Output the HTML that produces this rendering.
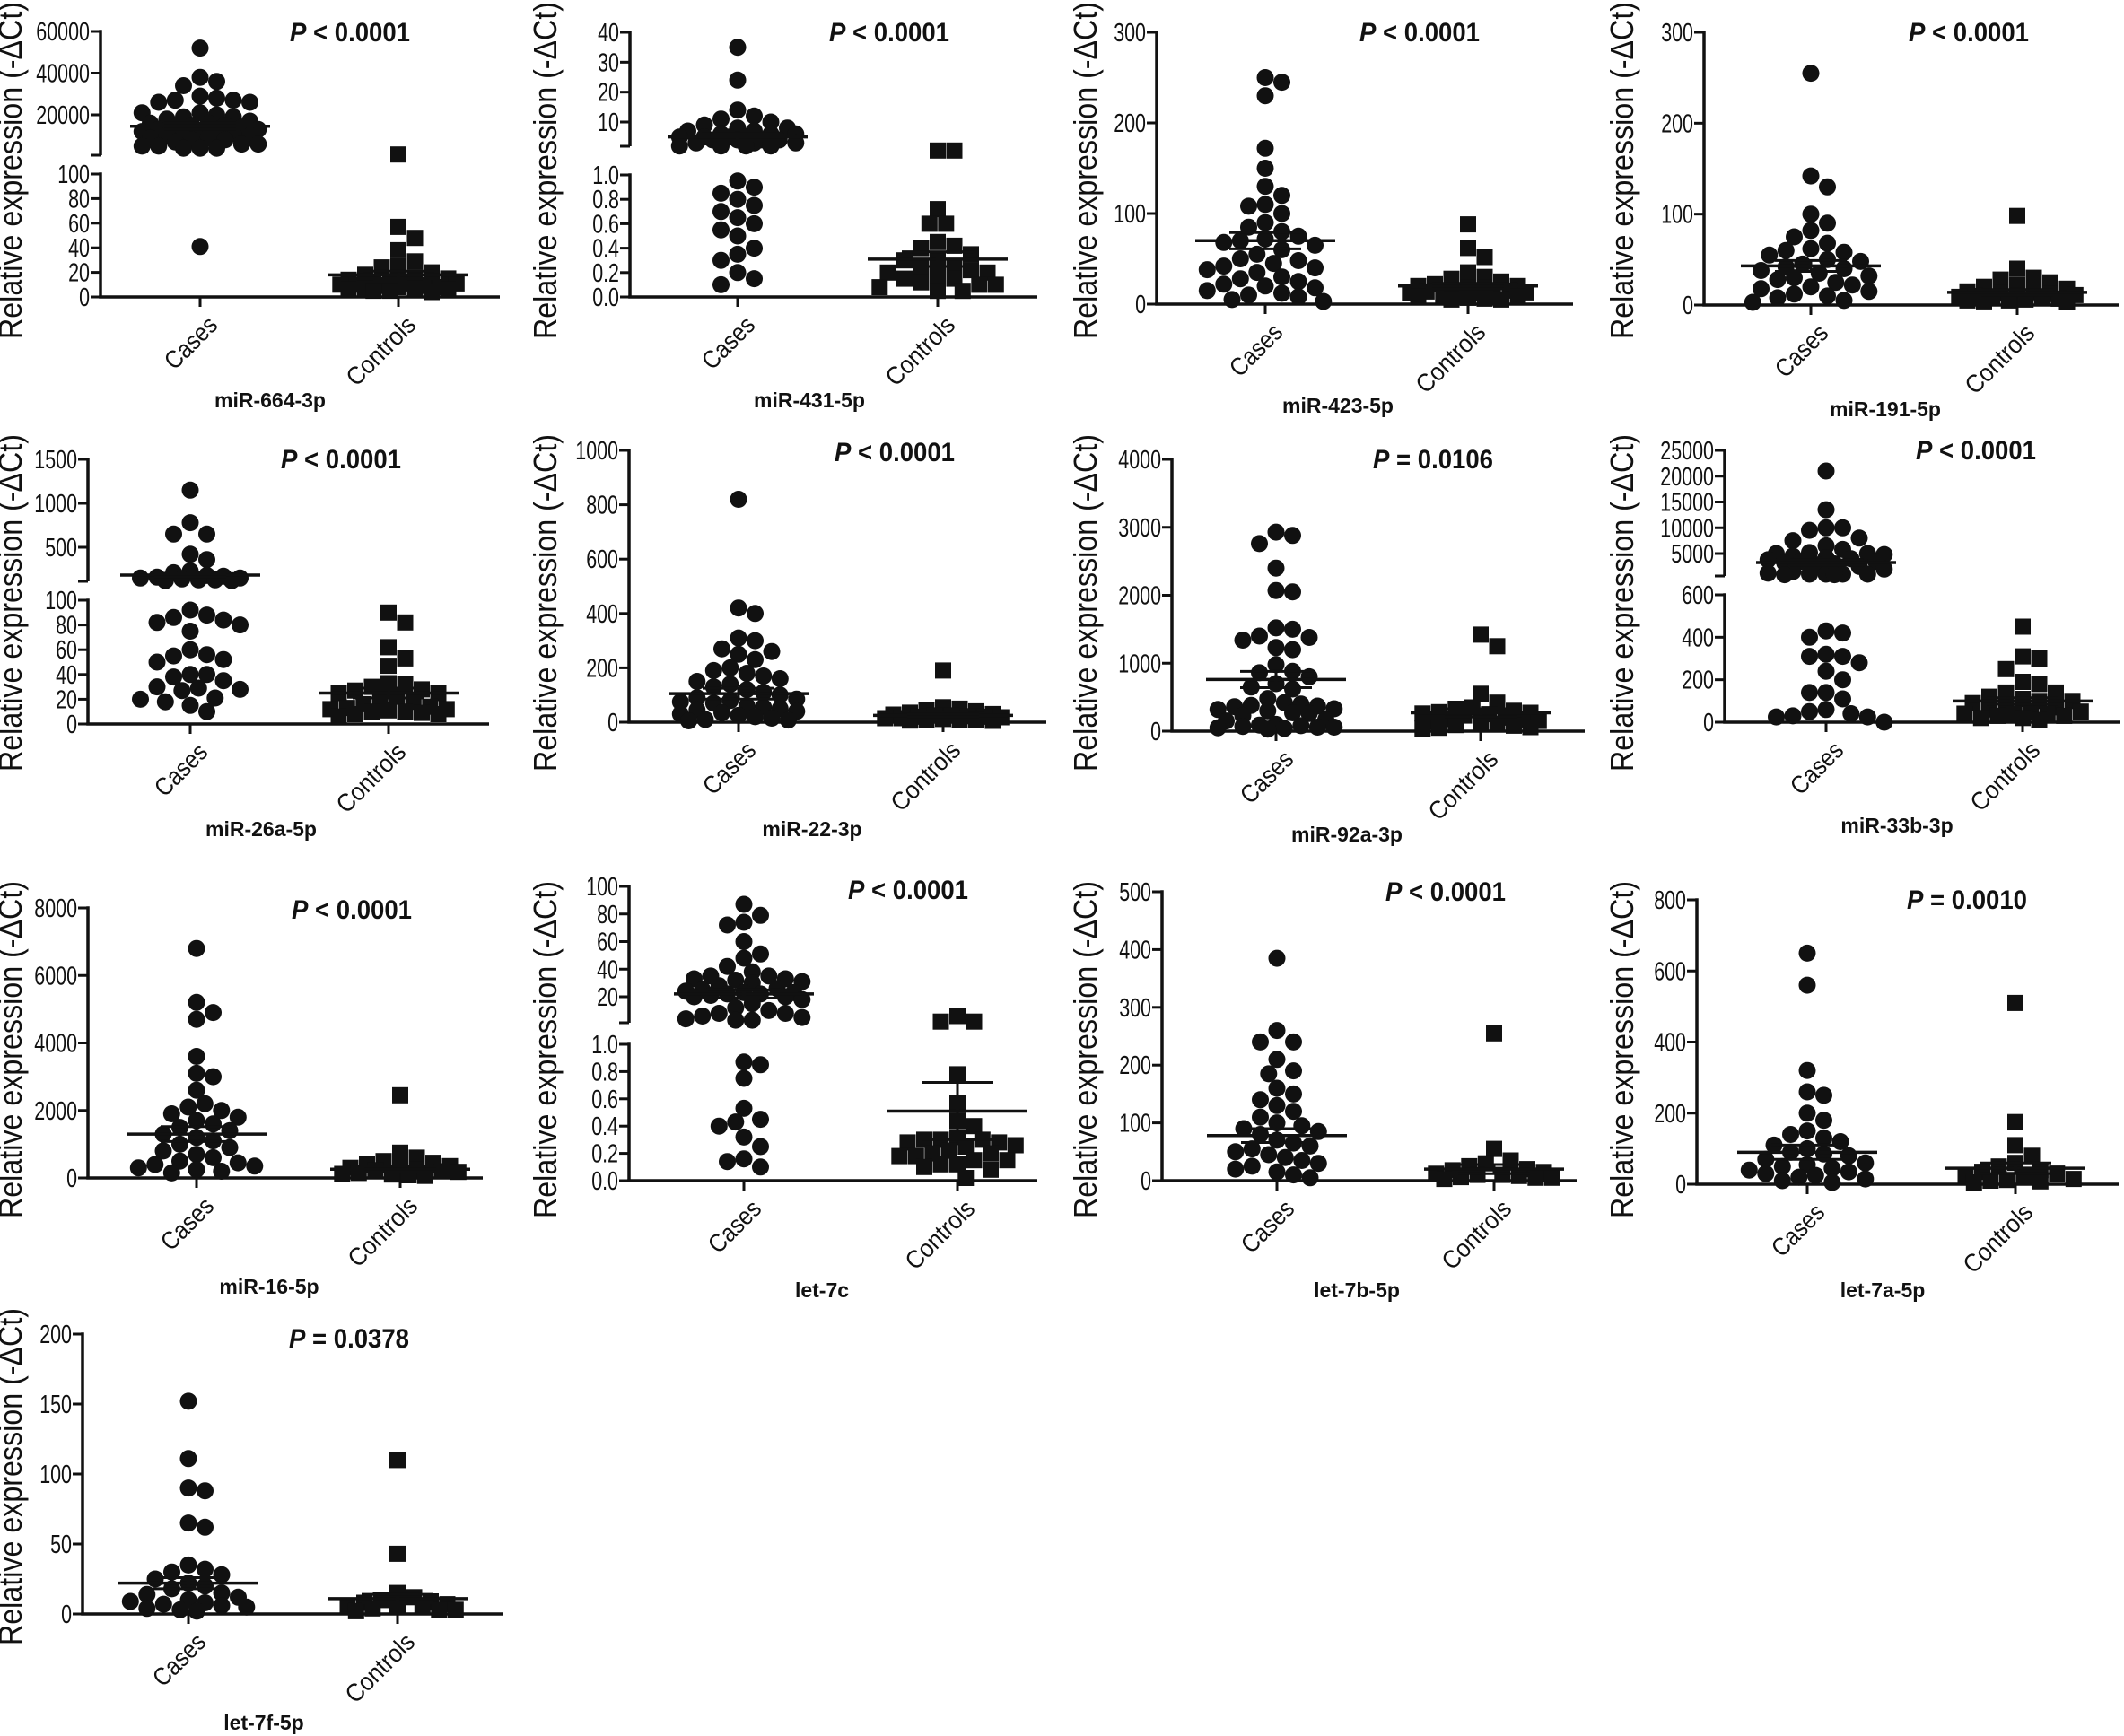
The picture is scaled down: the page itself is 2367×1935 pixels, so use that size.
<!DOCTYPE html>
<html><head><meta charset="utf-8">
<style>
html,body{margin:0;padding:0;background:#fff;}
svg{display:block;}
text{font-family:"Liberation Sans",Arial,sans-serif;fill:#111;}
</style></head>
<body>
<svg id="fig" width="2367" height="1935" viewBox="0 0 2367 1935" xmlns="http://www.w3.org/2000/svg"></svg>
<script>
// ---------- data ----------
const cases664 = [52000,38000,36000,34000,29000,28000,27000,27000,26000,26000,21000,21000,20000,19000,19000,18000,17000,16000,16000,15000,15000,14000,14000,13000,13000,12000,12000,12000,11000,11000,10000,10000,9000,9000,8000,8000,7000,6000,6000,5000,5000,4000,4000,4000,41];
const controls664 = [1000,57,48,38,29,25,24,20,18,16,15,14,13,12,12,11,11,10,10,9,9,8,8,7,7,6,6,5,5,4];
const mean664 = [14500,18]; const sem664 = [1500,3];
const upTicks664 = ['20000','40000','60000']; const lowTicks664 = ['0','20','40','60','80','100'];

const cases431 = [35,24,14,12,11,10,9,8,8,7,7,6,6,6,5,5,5,5,4,4,4,4,3,3,3,2,2,2,2,0.95,0.9,0.85,0.8,0.75,0.7,0.65,0.6,0.55,0.5,0.4,0.35,0.3,0.2,0.15,0.1];
const controls431 = [1.2,1.2,0.72,0.6,0.6,0.45,0.42,0.4,0.35,0.3,0.3,0.25,0.25,0.22,0.2,0.2,0.18,0.15,0.15,0.12,0.1,0.1,0.08,0.05,0.05];
const mean431 = [5,0.31]; const sem431 = [1,0.06];
const upTicks431 = ['10','20','30','40']; const lowTicks431 = ['0.0','0.2','0.4','0.6','0.8','1.0'];

const cases423 = [250,245,230,172,150,130,120,110,108,100,90,85,80,75,72,70,68,65,60,55,50,48,45,42,40,38,35,30,28,25,22,20,18,15,12,10,8,5,3];
const controls423 = [88,62,52,35,30,28,25,22,20,20,18,18,15,15,14,13,12,12,10,10,9,8,8,7,6,5,5];
const mean423 = [70,20]; const sem423 = [9,3];
const ticks423 = ['0','100','200','300'];

const cases191 = [255,142,130,100,90,82,75,68,62,60,58,55,50,48,45,42,40,38,35,32,30,28,25,22,20,18,15,12,10,8,5,3];
const controls191 = [98,40,30,28,25,22,20,18,15,14,13,12,11,10,10,9,8,8,7,6,5,5,4,3];
const mean191 = [43,14]; const sem191 = [6,3];
const ticks191 = ['0','100','200','300'];

const cases26a = [1150,780,650,650,420,360,230,210,180,170,160,150,150,140,130,130,120,120,92,88,86,84,82,80,75,60,56,55,52,50,40,40,38,35,30,29,28,27,21,20,18,15,10];
const controls26a = [90,82,62,53,47,33,32,30,28,27,25,25,22,20,18,16,14,13,12,12,11,10,10,9,8,8,6];
const mean26a = [184,25]; const sem26a = [20,4];
const upTicks26a = ['500','1000','1500']; const lowTicks26a = ['0','20','40','60','80','100'];

const cases22 = [820,420,400,310,300,270,260,250,230,200,190,180,170,160,150,140,130,120,110,100,90,85,80,75,70,60,55,50,45,40,35,30,25,20,15,10,8,5];
const controls22 = [190,55,50,45,40,35,30,28,25,25,22,20,20,18,15,15,12,10,10,8,6,5];
const mean22 = [105,25]; const sem22 = [20,6];
const ticks22 = ['0','200','400','600','800','1000'];

const cases92a = [2930,2880,2760,2400,2050,2070,1520,1500,1400,1380,1340,1230,1200,980,880,860,800,700,650,620,480,420,400,380,370,360,330,320,300,270,260,230,170,150,100,90,80,70,60,60,50,40,30];
const controls92a = [1420,1250,550,420,350,330,300,280,270,260,250,230,200,180,170,150,140,120,100,90,80,60,50,40];
const mean92a = [760,270]; const sem92a = [120,60];
const ticks92a = ['0','1000','2000','3000','4000'];

const cases33b = [21000,13500,10000,10000,9500,8000,7500,6500,5800,5200,5000,5000,4800,4500,4200,4000,3800,3500,3500,3200,3000,2800,2500,2000,1500,1200,1000,1000,1000,1000,900,900,430,420,400,320,310,310,280,240,200,140,140,110,60,50,40,30,25,25,0];
const controls33b = [450,310,300,250,190,180,140,140,120,110,100,100,90,80,70,60,50,50,40,40,40,30,30,20,20,10];
const mean33b = [3260,100]; const sem33b = [500,15];
const upTicks33b = ['5000','10000','15000','20000','25000']; const lowTicks33b = ['0','200','400','600'];

const cases16 = [6800,5200,4900,4700,3600,3100,3000,2600,2200,2100,2000,1900,1800,1700,1600,1500,1400,1300,1200,1100,1000,900,800,700,600,500,450,400,350,300,250,200,150];
const controls16 = [2450,750,600,500,450,400,350,300,280,250,230,200,180,150,120,100,80,60];
const mean16 = [1300,260]; const sem16 = [220,80];
const ticks16 = ['0','2000','4000','6000','8000'];

const cases7c = [87,79,74,72,60,51,48,42,38,35,35,33,33,32,31,30,28,26,25,24,23,23,22,22,21,20,20,18,15,12,10,8,8,6,5,4,3,3,0.87,0.85,0.75,0.53,0.45,0.43,0.4,0.32,0.25,0.16,0.14,0.1];
const controls7c = [6,2,2,0.78,0.57,0.44,0.4,0.32,0.3,0.3,0.3,0.28,0.28,0.26,0.25,0.22,0.2,0.2,0.18,0.18,0.15,0.15,0.12,0.12,0.1,0.08,0.02];
const mean7c = [22,0.51]; const sem7c = [3,0.21];
const upTicks7c = ['20','40','60','80','100']; const lowTicks7c = ['0.0','0.2','0.4','0.6','0.8','1.0'];

const cases7b = [385,260,240,240,210,190,185,160,150,140,130,120,110,100,95,90,85,80,70,65,60,55,50,45,40,35,30,25,20,15,10,5];
const controls7b = [255,55,35,30,25,20,18,15,12,10,10,8,6,5,5,3];
const mean7b = [78,20]; const sem7b = [12,8];
const ticks7b = ['0','100','200','300','400','500'];

const cases7a = [650,560,320,260,250,200,180,150,140,130,120,110,100,90,85,80,70,60,55,50,45,40,35,30,25,20,15,10,5];
const controls7a = [510,175,110,80,60,50,40,35,30,25,20,15,12,10,8,5];
const mean7a = [90,45]; const sem7a = [20,15];
const ticks7a = ['0','200','400','600','800'];

const cases7f = [152,111,90,88,65,62,35,32,30,28,25,22,20,18,15,14,12,10,9,8,7,6,5,4,3,2];
const controls7f = [110,43,15,12,10,9,8,7,6,5,5,4,3,3,2];
const mean7f = [22,11]; const sem7f = [4,3];
const ticks7f = ['0','50','100','150','200'];

// ---------- layout (pixel geometry) ----------
const panels = [
 {id:'mir-664-3p',title:'miR-664-3p',p:'< 0.0001',ax:112,y0:331,xe:557,cx:[223,444],px:390,py:46,tx:301,ty:454,ytx:12,yty:190,
  split:500,low:[0,331,100,194],up:[20000,128,60000,35,173],lowT:lowTicks664,upT:upTicks664,d:[cases664,controls664],m:mean664,s:sem664},
 {id:'mir-431-5p',title:'miR-431-5p',p:'< 0.0001',ax:702,y0:331,xe:1156,cx:[822,1045],px:991,py:46,tx:902,ty:454,ytx:608,yty:190,
  split:1.5,low:[0,331,1,195],up:[10,136,40,36,163],lowT:lowTicks431,upT:upTicks431,d:[cases431,controls431],m:mean431,s:sem431},
 {id:'mir-423-5p',title:'miR-423-5p',p:'< 0.0001',ax:1289,y0:339,xe:1753,cx:[1410,1636],px:1582,py:46,tx:1491,ty:460,ytx:1210,yty:190,
  low:[0,339,300,36],lowT:ticks423,d:[cases423,controls423],m:mean423,s:sem423},
 {id:'mir-191-5p',title:'miR-191-5p',p:'< 0.0001',ax:1899,y0:340,xe:2361,cx:[2018,2248],px:2194,py:46,tx:2101,ty:464,ytx:1808,yty:190,
  low:[0,340,300,36],lowT:ticks191,d:[cases191,controls191],m:mean191,s:sem191},

 {id:'mir-26a-5p',title:'miR-26a-5p',p:'< 0.0001',ax:98,y0:807,xe:545,cx:[212,433],px:380,py:522,tx:291,ty:932,ytx:12,yty:672,
  split:110,low:[0,807,100,669],up:[500,610,1500,512,648],lowT:lowTicks26a,upT:upTicks26a,d:[cases26a,controls26a],m:mean26a,s:sem26a},
 {id:'mir-22-3p',title:'miR-22-3p',p:'< 0.0001',ax:701,y0:805,xe:1166,cx:[823,1051],px:997,py:514,tx:905,ty:932,ytx:608,yty:672,
  low:[0,805,1000,502],lowT:ticks22,d:[cases22,controls22],m:mean22,s:sem22},
 {id:'mir-92a-3p',title:'miR-92a-3p',p:'= 0.0106',ax:1306,y0:815,xe:1766,cx:[1422,1650],px:1597,py:522,tx:1501,ty:938,ytx:1210,yty:672,
  low:[0,815,4000,512],lowT:ticks92a,d:[cases92a,controls92a],m:mean92a,s:sem92a},
 {id:'mir-33b-3p',title:'miR-33b-3p',p:'< 0.0001',ax:1922,y0:805,xe:2362,cx:[2035,2254],px:2202,py:512,tx:2114,ty:928,ytx:1808,yty:672,
  split:650,low:[0,805,600,663],up:[5000,617,25000,502,642],lowT:lowTicks33b,upT:upTicks33b,d:[cases33b,controls33b],m:mean33b,s:sem33b},

 {id:'mir-16-5p',title:'miR-16-5p',p:'< 0.0001',ax:98,y0:1313,xe:538,cx:[219,446],px:392,py:1024,tx:300,ty:1442,ytx:12,yty:1170,
  low:[0,1313,8000,1012],lowT:ticks16,d:[cases16,controls16],m:mean16,s:sem16},
 {id:'let-7c',title:'let-7c',p:'< 0.0001',ax:701,y0:1316,xe:1156,cx:[829,1067],px:1012,py:1002,tx:916,ty:1446,ytx:608,yty:1170,
  split:1.05,low:[0,1316,1,1164],up:[20,1111,100,988,1140],lowT:lowTicks7c,upT:upTicks7c,d:[cases7c,controls7c],m:mean7c,s:sem7c},
 {id:'let-7b-5p',title:'let-7b-5p',p:'< 0.0001',ax:1295,y0:1316,xe:1757,cx:[1423,1665],px:1611,py:1004,tx:1512,ty:1446,ytx:1210,yty:1170,
  low:[0,1316,500,994],lowT:ticks7b,d:[cases7b,controls7b],m:mean7b,s:sem7b},
 {id:'let-7a-5p',title:'let-7a-5p',p:'= 0.0010',ax:1891,y0:1320,xe:2361,cx:[2014,2246],px:2192,py:1013,tx:2098,ty:1446,ytx:1808,yty:1170,
  low:[0,1320,800,1003],lowT:ticks7a,d:[cases7a,controls7a],m:mean7a,s:sem7a},

 {id:'let-7f-5p',title:'let-7f-5p',p:'= 0.0378',ax:92,y0:1799,xe:561,cx:[210,443],px:389,py:1502,tx:294,ty:1928,ytx:12,yty:1646,
  low:[0,1799,200,1487],lowT:ticks7f,d:[cases7f,controls7f],m:mean7f,s:sem7f}
];
const groupNames = ['Cases','Controls'];
const groupLabelLen = [70,96];

// ---------- rendering ----------
const NS = 'http://www.w3.org/2000/svg';
const svg = document.getElementById('fig');
function el(tag, parent){ const e = document.createElementNS(NS, tag); parent.appendChild(e); return e; }
function cw(s){ let w=0; for(const c of s){ if(/[0-9]/.test(c)) w+=0.556; else if(c==='.') w+=0.278; else if(c==='-') w+=0.333; else if(c===' ') w+=0.278; else if(/[A-Z]/.test(c)) w+=0.667; else w+=0.5; } return w; }
function lin(a, v){ return a[1] + (v - a[0]) * (a[3] - a[1]) / (a[2] - a[0]); }

panels.forEach(P => {
  const g = el('g', svg);
  
  
  const ys = v => (P.up && v >= P.split) ? lin(P.up, v) : lin(P.low, v);
  const lw = 3.5;

  const lowTop = lin(P.low, parseFloat(P.lowT[P.lowT.length-1]));
  const ya = el('line', g);
  
  
  ya.setAttribute('x1', P.ax); ya.setAttribute('x2', P.ax); ya.setAttribute('y1', lowTop - lw/2); ya.setAttribute('y2', P.y0);
  ya.setAttribute('stroke', '#111'); ya.setAttribute('stroke-width', lw);
  function ticks(list, f, nm){
    list.forEach(t => {
      const y = f(parseFloat(t));
      const tk = el('line', g);
      
      
      tk.setAttribute('x1', P.ax - 11); tk.setAttribute('x2', P.ax); tk.setAttribute('y1', y); tk.setAttribute('y2', y);
      tk.setAttribute('stroke', '#111'); tk.setAttribute('stroke-width', 3);
      const tx = el('text', g);
      
      
      tx.setAttribute('x', P.ax - 12); tx.setAttribute('y', y + 10);
      tx.setAttribute('text-anchor', 'end'); tx.setAttribute('font-size', 29);
      tx.setAttribute('textLength', (cw(t) * 29 * 0.74).toFixed(1)); tx.setAttribute('lengthAdjust', 'spacingAndGlyphs');
      tx.textContent = t;
    });
  }
  ticks(P.lowT, v => lin(P.low, v), 'y');
  if (P.up) {
    const upTop = lin(P.up, parseFloat(P.upT[P.upT.length-1]));
    const ua = el('line', g);
    
    
    ua.setAttribute('x1', P.ax); ua.setAttribute('x2', P.ax); ua.setAttribute('y1', upTop - lw/2); ua.setAttribute('y2', P.up[4]);
    ua.setAttribute('stroke', '#111'); ua.setAttribute('stroke-width', lw);
    const bt = el('line', g);
    
    
    bt.setAttribute('x1', P.ax - 11); bt.setAttribute('x2', P.ax); bt.setAttribute('y1', P.up[4]); bt.setAttribute('y2', P.up[4]);
    bt.setAttribute('stroke', '#111'); bt.setAttribute('stroke-width', 3);
    ticks(P.upT, v => lin(P.up, v), 'y-upper');
  }
  const xa = el('line', g);
  
  
  xa.setAttribute('x1', P.ax - lw/2); xa.setAttribute('x2', P.xe); xa.setAttribute('y1', P.y0); xa.setAttribute('y2', P.y0);
  xa.setAttribute('stroke', '#111'); xa.setAttribute('stroke-width', lw);

  const yt = el('text', g);
  
  
  yt.setAttribute('x', 0); yt.setAttribute('y', 0);
  yt.setAttribute('transform', 'translate(' + (P.ytx + 12) + ',' + P.yty + ') rotate(-90)');
  yt.setAttribute('text-anchor', 'middle'); yt.setAttribute('font-size', 36);
  yt.setAttribute('textLength', 376); yt.setAttribute('lengthAdjust', 'spacingAndGlyphs');
  yt.textContent = 'Relative expression (-\u0394Ct)';

  const pv = el('text', g);
  
  
  pv.setAttribute('x', P.px); pv.setAttribute('y', P.py);
  pv.setAttribute('text-anchor', 'middle'); pv.setAttribute('font-size', 30); pv.setAttribute('font-weight', 'bold');
  pv.setAttribute('textLength', 134); pv.setAttribute('lengthAdjust', 'spacingAndGlyphs');
  const pi = document.createElementNS(NS, 'tspan'); pi.setAttribute('font-style', 'italic'); pi.textContent = 'P'; pv.appendChild(pi);
  pv.appendChild(document.createTextNode(' ' + P.p));

  const tt = el('text', g);
  
  
  tt.setAttribute('x', P.tx); tt.setAttribute('y', P.ty);
  tt.setAttribute('text-anchor', 'middle'); tt.setAttribute('font-size', 23); tt.setAttribute('font-weight', 'bold');
  tt.textContent = P.title;

  [0, 1].forEach(k => {
    const cx = P.cx[k];
    const xt = el('line', g);
    
    
    xt.setAttribute('x1', cx); xt.setAttribute('x2', cx); xt.setAttribute('y1', P.y0); xt.setAttribute('y2', P.y0 + 11);
    xt.setAttribute('stroke', '#111'); xt.setAttribute('stroke-width', 3);
    const cl = el('text', g);
    
    
    cl.setAttribute('x', 0); cl.setAttribute('y', 0);
    cl.setAttribute('transform', 'translate(' + (cx + 21) + ',' + (P.y0 + 33) + ') rotate(-45)');
    cl.setAttribute('text-anchor', 'end'); cl.setAttribute('font-size', 28);
    cl.setAttribute('textLength', groupLabelLen[k]); cl.setAttribute('lengthAdjust', 'spacingAndGlyphs');
    cl.textContent = groupNames[k];

    // bounded beeswarm
    const vals = P.d[k].slice().sort((a, b) => b - a);
    const dia = 18.5, maxOff = 70, placed = [];
    const cands = [];
    for (let i = 0; ; i++) {
      const off = Math.ceil(i / 2) * (dia / 2) * (i % 2 ? 1 : -1);
      if (Math.abs(off) > maxOff) break;
      cands.push(off);
    }
    vals.forEach(v => {
      const y = ys(v);
      let best = cx, bestD = -1;
      for (const off of cands) {
        const tx = cx + off;
        let md = Infinity;
        placed.forEach(p => { const dd = (p[0]-tx)*(p[0]-tx) + (p[1]-y)*(p[1]-y); if (dd < md) md = dd; });
        if (md >= dia*dia*0.9) { best = tx; break; }
        if (md > bestD + 1) { bestD = md; best = tx; }
      }
      placed.push([best, y]);
      let mk;
      if (k === 0) {
        mk = el('circle', g);
        mk.setAttribute('cx', best.toFixed(1)); mk.setAttribute('cy', y.toFixed(1)); mk.setAttribute('r', 9.5);
      } else {
        mk = el('rect', g);
        mk.setAttribute('x', (best - 9).toFixed(1)); mk.setAttribute('y', (y - 9).toFixed(1)); mk.setAttribute('width', 18); mk.setAttribute('height', 18);
      }
      
      
      mk.setAttribute('fill', '#111');
    });

    const my = ys(P.m[k]), hy = ys(P.m[k] + P.s[k]), ly = ys(Math.max(0, P.m[k] - P.s[k]));
    const ml = el('line', g);
    
    
    ml.setAttribute('x1', cx - 78); ml.setAttribute('x2', cx + 78); ml.setAttribute('y1', my); ml.setAttribute('y2', my);
    ml.setAttribute('stroke', '#111'); ml.setAttribute('stroke-width', 3.5);
    const vl = el('line', g);
    
    
    vl.setAttribute('x1', cx); vl.setAttribute('x2', cx); vl.setAttribute('y1', hy); vl.setAttribute('y2', ly);
    vl.setAttribute('stroke', '#111'); vl.setAttribute('stroke-width', 3);
    [hy, ly].forEach(yy => {
      const c = el('line', g);
      
      
      c.setAttribute('x1', cx - 40); c.setAttribute('x2', cx + 40); c.setAttribute('y1', yy); c.setAttribute('y2', yy);
      c.setAttribute('stroke', '#111'); c.setAttribute('stroke-width', 3);
    });
  });
});
</script>
</body></html>
